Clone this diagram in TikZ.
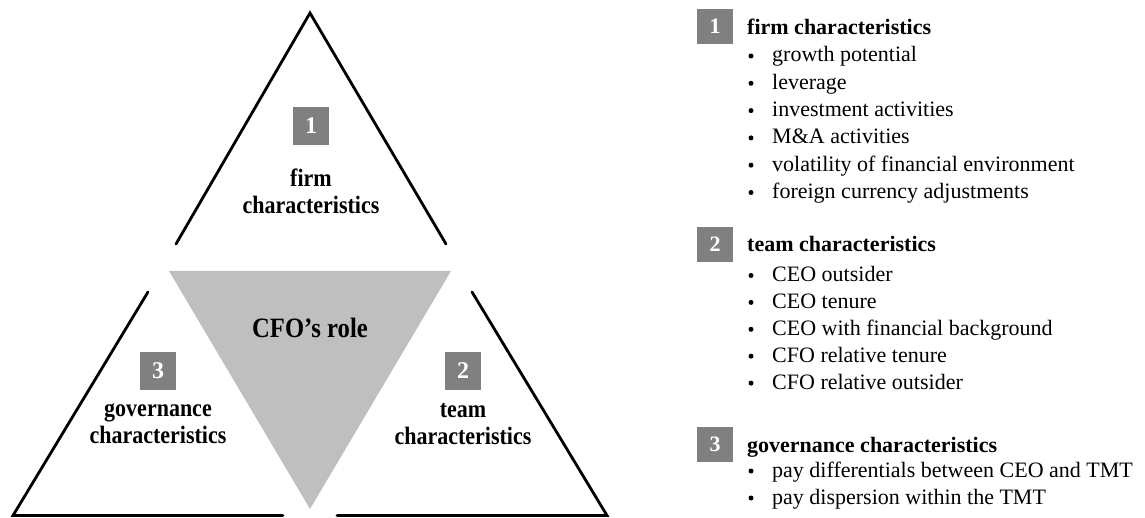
\documentclass[tikz,border=0pt]{standalone}
\usepackage{fontspec}
\setmainfont{Liberation Serif}
% condensed bold face for the labels inside the triangles
\newfontfamily\trifont[FakeStretch=0.88]{Liberation Serif}
\definecolor{rolegray}{RGB}{191,191,191}
\definecolor{numgray}{RGB}{128,128,128}
\begin{document}
\begin{tikzpicture}[x=1pt,y=-1pt,
  frame/.style={line width=2.8pt, line cap=round, line join=miter},
  numbox/.style={fill=numgray, text=white, inner sep=0pt,
    font=\bfseries\fontsize{24}{24}\selectfont,
    minimum width=36pt, minimum height=38pt},
  listnum/.style={numbox, font=\bfseries\fontsize{22}{22}\selectfont,
    minimum width=36pt, minimum height=35pt},
  trilabel/.style={align=center, font=\trifont\bfseries\fontsize{25}{27}\selectfont},
  head/.style={anchor=base west, inner sep=0pt, font=\bfseries\fontsize{22}{22}\selectfont},
  item/.style={anchor=base west, inner sep=0pt, font=\fontsize{22}{22}\selectfont},
  dot/.style={circle, fill=black, inner sep=0pt, minimum size=5pt}
]
\useasboundingbox (0,0) rectangle (1145,518);

% central inverted triangle
\coordinate (gl) at (169,271);
\coordinate (gr) at (451,271);
\coordinate (gb) at (310,509);
\fill[rolegray] (gl) -- (gr) -- (gb) -- cycle;
\node[font=\trifont\bfseries\fontsize{28}{28}\selectfont] (role) at (310,328) {CFO’s role};

% top triangle (firm)
\coordinate (tA) at (310,13);
\coordinate (tL) at (176,244);
\coordinate (tR) at (446,244);
\draw[frame] (tL) -- (tA) -- (tR);

% left triangle (governance)
\coordinate (lT) at (148,292);
\coordinate (lC) at (13,515.5);
\coordinate (lE) at (283,515.5);
\draw[frame] (lT) -- (lC) -- (lE);

% right triangle (team)
\coordinate (rT) at (472,292);
\coordinate (rC) at (607,515.5);
\coordinate (rE) at (337,515.5);
\draw[frame] (rT) -- (rC) -- (rE);

% labels inside the triangles
\node[numbox] (n1) at (311,126) {1};
\node[trilabel] (firm) at (311,191) {firm\\characteristics};
\node[numbox] (n3) at (158,371) {3};
\node[trilabel] (gov) at (158,424) {governance\\characteristics};
\node[numbox] (n2) at (463,371) {2};
\node[trilabel] (team) at (463,424) {team\\characteristics};

% list of characteristics (y values of the texts are baselines)
\node[listnum] (k1) at (715,26.5) {1};
\node[head] (h1) at (747,35) {firm characteristics};
\foreach \t [count=\i] in {growth potential, leverage, investment activities,
    M\&A activities, volatility of financial environment,
    foreign currency adjustments}{
  \node[dot] (d1\i) at (751,56+27.3*\i-27.3) {};
  \node[item] (a1\i) at (772,62+27.3*\i-27.3) {\t};
}

\node[listnum] (k2) at (715,244.5) {2};
\node[head] (h2) at (747,252) {team characteristics};
\foreach \t [count=\i] in {CEO outsider, CEO tenure,
    CEO with financial background, CFO relative tenure,
    CFO relative outsider}{
  \node[dot] (d2\i) at (751,275.5+26.9*\i-26.9) {};
  \node[item] (a2\i) at (772,281.5+26.9*\i-26.9) {\t};
}

\node[listnum] (k3) at (715,444.5) {3};
\node[head] (h3) at (747,452) {governance characteristics};
\foreach \t [count=\i] in {pay differentials between CEO and TMT,
    pay dispersion within the TMT}{
  \node[dot] (d3\i) at (751,471+27*\i-27) {};
  \node[item] (a3\i) at (772,477+27*\i-27) {\t};
}
\end{tikzpicture}
\end{document}
